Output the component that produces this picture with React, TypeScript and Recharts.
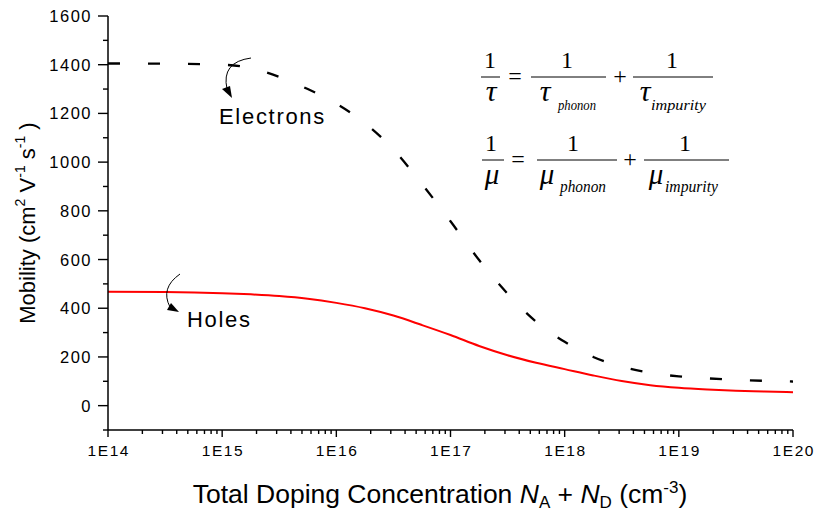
import React from 'react';
import { LineChart, Line, XAxis, YAxis, Label } from 'recharts';

// Total doping concentration (cm^-3)
const doping = [1e14, 3.16e14, 1e15, 1.78e15, 3.16e15, 5.62e15, 1e16, 1.78e16, 3.16e16, 5.62e16, 1e17, 1.78e17, 3.16e17, 5.62e17, 1e18, 1.78e18, 3.16e18, 5.62e18, 1e19, 1.78e19, 3.16e19, 5.62e19, 1e20];
// Electron mobility (cm^2 V^-1 s^-1)
const electrons = [1405, 1404, 1400, 1386, 1350, 1300, 1240, 1160, 1052, 910, 757, 598, 460, 345, 262, 200, 160, 135, 120, 112, 106, 102, 99];
// Hole mobility (cm^2 V^-1 s^-1)
const holes = [468, 467, 462, 457, 450, 439, 422, 400, 370, 331, 290, 245, 207, 176, 150, 124, 101, 84, 73, 66, 61, 58, 55];

const xMajorTicks = [1e14, 1e15, 1e16, 1e17, 1e18, 1e19, 1e20];
const xMajorLabels = ['1E14', '1E15', '1E16', '1E17', '1E18', '1E19', '1E20'];
const minorMultipliers = [2, 3, 4, 5, 6, 7, 8, 9];
const yTicks = [-100, 0, 100, 200, 300, 400, 500, 600, 700, 800, 900, 1000, 1100, 1200, 1300, 1400, 1500, 1600];

const xAllTicks: number[] = [];
xMajorTicks.forEach((d, i) => {
  xAllTicks.push(d);
  if (i < xMajorTicks.length - 1) minorMultipliers.forEach((m) => xAllTicks.push(m * d));
});

const data = doping.map((n, i) => ({ n, e: electrons[i], h: holes[i] }));

const SANS = '"Liberation Sans", Arial, sans-serif';
const SERIF = '"Liberation Serif", "Times New Roman", serif';

const XTick = (props: any) => {
  const { x, y, payload } = props;
  const idx = xMajorTicks.indexOf(payload.value);
  const major = idx >= 0;
  return (
    <g>
      <line x1={x} y1={y} x2={x} y2={y + (major ? 7 : 4)} stroke="#000" strokeWidth={1.4} />
      {major && (
        <text x={x + 0.8} y={y + 20} textAnchor="middle" dominantBaseline="central" fontFamily={SANS} fontSize={15.5} letterSpacing={1.6} fill="#000">
          {xMajorLabels[idx]}
        </text>
      )}
    </g>
  );
};

const YTick = (props: any) => {
  const { x, y, payload } = props;
  const v = payload.value;
  const major = v % 200 === 0;
  return (
    <g>
      <line x1={x} y1={y} x2={x - (major ? 10 : 5)} y2={y} stroke="#000" strokeWidth={1.4} />
      {major && (
        <text x={x - 16} y={y} textAnchor="end" dominantBaseline="central" fontFamily={SANS} fontSize={16.5} letterSpacing={1.5} fill="#000">
          {String(v)}
        </text>
      )}
    </g>
  );
};

const XLabel = () => (
  <text x={440} y={503} textAnchor="middle" fontFamily={SANS} fontSize={26.5} fill="#000">
    Total Doping Concentration{' '}
    <tspan fontStyle="italic">N</tspan>
    <tspan fontSize={17} dy={5}>A</tspan>
    <tspan dy={-5}> + </tspan>
    <tspan fontStyle="italic">N</tspan>
    <tspan fontSize={17} dy={5}>D</tspan>
    <tspan dy={-5}> (cm</tspan>
    <tspan fontSize={17} dy={-10}>-3</tspan>
    <tspan dy={10}>)</tspan>
  </text>
);

const YLabel = () => (
  <text x={35} y={223} transform="rotate(-90, 35, 223)" textAnchor="middle" fontFamily={SANS} fontSize={22} fill="#000">
    Mobility (cm
    <tspan fontSize={14} dy={-10}>2</tspan>
    <tspan dy={10}> V</tspan>
    <tspan fontSize={14} dy={-10}>-1</tspan>
    <tspan dy={10}> s</tspan>
    <tspan fontSize={14} dy={-10}>-1</tspan>
    <tspan dy={10}> )</tspan>
  </text>
);

const Overlay = () => (
  <svg width={818} height={511} style={{ position: 'absolute', left: 0, top: 0, pointerEvents: 'none' }}>
    {/* annotation arrows */}
    <path d="M251,58 Q221,62 227,89" fill="none" stroke="#000" strokeWidth={1} />
    <polygon points="232,98 222,89 230,86" fill="#000" />
    <path d="M180,274 Q160,288 170,307" fill="none" stroke="#000" strokeWidth={1} />
    <polygon points="179,312 167,310 171,303" fill="#000" />
    <text x={219} y={124} fontFamily={SANS} fontSize={22} letterSpacing={1.7} fill="#000">Electrons</text>
    <text x={187} y={327} fontFamily={SANS} fontSize={22} letterSpacing={1.7} fill="#000">Holes</text>

    {/* equation 1 */}
    <g fontFamily={SERIF} fill="#000">
      <text x={490} y={68} textAnchor="middle" fontSize={24}>1</text>
      <line x1={481} x2={500} y1={77} y2={77} stroke="#000" strokeWidth={1} />
      <text x={491} y={101} textAnchor="middle" fontSize={30} fontStyle="italic">τ</text>
      <text x={515} y={84} textAnchor="middle" fontSize={24}>=</text>
      <text x={567} y={68} textAnchor="middle" fontSize={24}>1</text>
      <line x1={531} x2={606} y1={77} y2={77} stroke="#000" strokeWidth={1} />
      <text x={545} y={101} textAnchor="middle" fontSize={30} fontStyle="italic">τ</text>
      <text x={558} y={110} fontSize={15} fontStyle="italic" textLength={38} lengthAdjust="spacingAndGlyphs">phonon</text>
      <text x={620} y={84} textAnchor="middle" fontSize={24}>+</text>
      <text x={672} y={68} textAnchor="middle" fontSize={24}>1</text>
      <line x1={633} x2={713} y1={77} y2={77} stroke="#000" strokeWidth={1} />
      <text x={645} y={101} textAnchor="middle" fontSize={30} fontStyle="italic">τ</text>
      <text x={651} y={110} fontSize={15} fontStyle="italic" textLength={55} lengthAdjust="spacingAndGlyphs">impurity</text>
    </g>

    {/* equation 2 */}
    <g fontFamily={SERIF} fill="#000">
      <text x={491} y={151} textAnchor="middle" fontSize={24}>1</text>
      <line x1={482} x2={504} y1={160} y2={160} stroke="#000" strokeWidth={1} />
      <text x={492} y={184} textAnchor="middle" fontSize={29} fontStyle="italic">μ</text>
      <text x={518} y={167} textAnchor="middle" fontSize={24}>=</text>
      <text x={573} y={151} textAnchor="middle" fontSize={24}>1</text>
      <line x1={537} x2={617} y1={160} y2={160} stroke="#000" strokeWidth={1} />
      <text x={547} y={184} textAnchor="middle" fontSize={29} fontStyle="italic">μ</text>
      <text x={560} y={192} fontSize={16} fontStyle="italic" textLength={46} lengthAdjust="spacingAndGlyphs">phonon</text>
      <text x={630} y={167} textAnchor="middle" fontSize={24}>+</text>
      <text x={685} y={151} textAnchor="middle" fontSize={24}>1</text>
      <line x1={644} x2={729} y1={160} y2={160} stroke="#000" strokeWidth={1} />
      <text x={656} y={184} textAnchor="middle" fontSize={29} fontStyle="italic">μ</text>
      <text x={665} y={192} fontSize={16} fontStyle="italic" textLength={53} lengthAdjust="spacingAndGlyphs">impurity</text>
    </g>
  </svg>
);

export default function App() {
  return (
    <div style={{ position: 'absolute', left: 0, top: 0, width: 818, height: 511, background: '#fff' }}>
      <LineChart width={818} height={511} data={data} margin={{ top: 16, right: 25, bottom: 51, left: 0 }}>
        <XAxis
          dataKey="n"
          type="number"
          scale="log"
          domain={[1e14, 1e20]}
          allowDataOverflow
          ticks={xAllTicks}
          interval={0}
          tickLine={false}
          tickSize={0}
          tickMargin={0}
          tick={<XTick />}
          axisLine={{ stroke: '#000', strokeWidth: 1.5 }}
          height={30}
        >
          <Label content={<XLabel />} />
        </XAxis>
        <YAxis
          type="number"
          domain={[-100, 1600]}
          allowDataOverflow
          ticks={yTicks}
          interval={0}
          tickLine={false}
          tickSize={0}
          tickMargin={0}
          tick={<YTick />}
          axisLine={{ stroke: '#000', strokeWidth: 1.5 }}
          width={108}
        >
          <Label content={<YLabel />} />
        </YAxis>
        <Line dataKey="h" type="monotone" stroke="#ff0000" strokeWidth={2} dot={false} isAnimationActive={false} />
        <Line dataKey="e" type="monotone" stroke="#000" strokeWidth={2.3} strokeDasharray="12 28" dot={false} isAnimationActive={false} />
      </LineChart>
      <Overlay />
    </div>
  );
}
